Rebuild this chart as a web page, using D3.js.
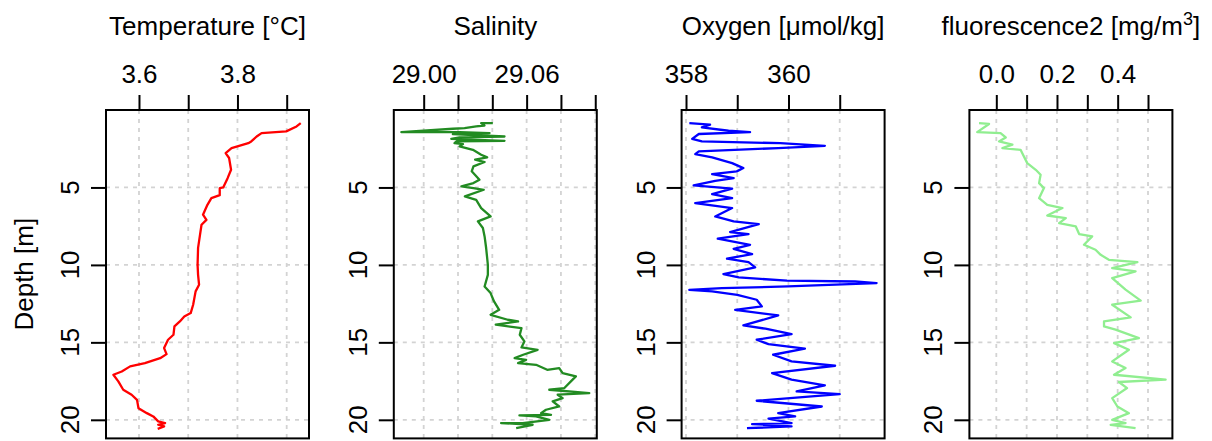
<!DOCTYPE html>
<html>
<head>
<meta charset="utf-8">
<script src="https://cdn.jsdelivr.net/npm/d3@7"></script>
<style>
  body { margin: 0; background: #fff; }
  svg text { font-family: "Liberation Sans", Arial, sans-serif; fill: #000; }
</style>
</head>
<body>
<div id="chart"></div>
<script>
// profile readings (depth in m)
var tempDepth = [0.85,1.06,1.38,1.49,1.71,2.03,2.14,2.46,2.78,3.1,3.86,4.4,5.0,5.05,5.5,5.69,6.12,6.76,7.09,7.41,8.05,8.9,10.0,10.64,11.28,11.71,12.57,13.11,13.33,13.65,13.97,14.51,14.83,15.37,15.76,16.02,16.34,16.55,16.88,17.09,17.52,18.06,18.38,18.71,19.25,19.57,19.78,20.1,20.21,20.32,20.43,20.58];
var tempValue = [3.9285,3.92,3.899,3.849,3.839,3.828,3.822,3.788,3.776,3.783,3.787,3.78,3.771,3.764,3.764,3.747,3.739,3.73,3.737,3.727,3.724,3.72,3.719,3.72,3.722,3.715,3.71,3.705,3.692,3.683,3.672,3.67,3.659,3.651,3.656,3.643,3.612,3.582,3.565,3.548,3.558,3.568,3.585,3.596,3.599,3.616,3.629,3.639,3.653,3.639,3.651,3.638];

var salDepth = [0.85,0.85,1.0,1.06,1.17,1.21,1.43,1.43,1.49,1.56,1.71,1.77,1.86,1.99,2.03,2.14,2.2,2.35,2.57,2.89,3.06,3.21,3.36,3.64,3.96,4.5,4.72,4.93,5.04,5.15,5.58,5.8,6.33,6.87,7.19,7.62,8.16,8.91,9.99,10.64,11.39,11.82,12.36,12.9,13.22,13.54,13.65,13.86,14.08,14.51,14.94,15.33,15.48,15.8,16.02,16.13,16.34,16.45,16.77,16.66,16.98,17.2,17.52,17.95,18.06,18.28,18.38,18.6,18.81,19.14,19.35,19.57,19.68,19.72,19.78,20.0,20.21,20.21,20.32,20.54];
var salValue = [29.0403,29.0335,29.0354,29.0306,29.0238,29.017,28.987,29.0209,29.0384,29.017,29.0471,29.0209,29.0161,29.0471,29.019,29.018,29.0229,29.0209,29.0287,29.0335,29.037,29.030,29.0355,29.029,29.028,29.0325,29.029,29.022,29.029,29.035,29.024,29.0306,29.0335,29.039,29.0316,29.0345,29.0355,29.0364,29.0374,29.0374,29.0355,29.039,29.041,29.044,29.039,29.049,29.055,29.042,29.057,29.056,29.0587,29.057,29.0664,29.058,29.053,29.0597,29.055,29.0655,29.072,29.079,29.081,29.0887,29.0858,29.082,29.0732,29.0965,29.0781,29.081,29.0752,29.079,29.0713,29.0684,29.0742,29.0558,29.0655,29.0732,29.0577,29.0451,29.0635,29.0539];

var oxyDepth = [0.85,0.95,1.12,1.34,1.43,1.55,1.86,2.03,2.14,2.31,2.46,2.67,2.85,3.06,3.43,3.75,3.96,4.14,4.4,4.57,4.87,5.08,5.43,5.69,6.01,6.33,6.87,7.19,7.37,7.88,8.01,8.31,8.7,8.96,9.3,9.6,9.82,10.16,10.59,10.81,11.02,11.07,11.17,11.39,11.5,11.61,11.71,11.93,12.25,12.68,12.9,13.26,13.91,14.12,14.47,14.83,15.11,15.41,15.8,16.23,16.51,16.99,17.41,17.78,18.17,18.34,18.77,19.14,19.57,19.78,19.93,20.21,20.28,20.43,20.54];
var oxyValue = [358.065,358.47,358.31,358.83,359.25,358.25,358.12,358.31,359.84,360.71,359.8,358.25,358.18,358.51,358.9,359.12,358.99,358.51,358.93,358.57,358.15,358.9,358.51,358.9,358.18,358.9,358.57,358.93,359.42,358.86,359.22,358.62,359.25,358.93,359.29,358.8,359.22,359.35,358.73,359.03,359.97,361.3,361.72,359.99,358.7,358.065,358.51,359.0,359.38,359.48,358.96,359.8,359.12,359.55,360.06,359.38,359.61,360.32,359.7,360.06,360.91,359.68,360.06,360.71,360.16,361.0,359.38,360.65,359.8,360.13,359.61,360.06,359.29,360.06,359.19];

var fluDepth = [0.85,0.9,1.43,1.49,1.77,2.03,2.24,2.46,2.57,3.0,3.43,3.86,4.18,4.72,5.04,5.69,6.12,6.33,6.81,6.98,7.3,7.52,8.01,8.16,8.7,9.02,9.35,9.67,9.82,10.21,10.42,10.85,11.6,12.31,12.57,13.39,13.65,13.97,14.18,14.73,15.05,15.48,16.23,16.66,17.09,17.41,17.56,17.95,18.6,19.14,19.57,20.0,20.21,20.32,20.54];
var fluValue = [-0.057,-0.024,-0.063,0.014,0.031,0.009,0.053,0.02,0.08,0.091,0.102,0.13,0.146,0.141,0.157,0.141,0.168,0.218,0.168,0.229,0.207,0.262,0.273,0.316,0.289,0.327,0.344,0.371,0.465,0.382,0.459,0.382,0.426,0.476,0.382,0.443,0.355,0.355,0.393,0.47,0.388,0.437,0.382,0.426,0.388,0.558,0.404,0.431,0.382,0.399,0.437,0.382,0.426,0.377,0.459];

// axis setup per panel
var titles = ["Temperature [\u00b0C]", "Salinity", "Oxygen [\u03bcmol/kg]", "fluorescence2 [mg/m"];
var xDomains = [[3.533, 3.9453], [28.98258, 29.1009], [357.914, 361.876], [-0.0887, 0.5804]];
var xTicks = [[3.6, 3.7, 3.8, 3.9], [29.00, 29.02, 29.04, 29.06, 29.08, 29.10], [358, 359, 360, 361], [0, 0.1, 0.2, 0.3, 0.4, 0.5]];
var xTickLabels = [["3.6", "", "3.8", ""], ["29.00", "", "", "29.06", "", ""], ["358", "", "360", ""], ["0.0", "", "0.2", "", "0.4", ""]];
var depthTicks = [5, 10, 15, 20];
var colors = ["#ff0000", "#228b22", "#0000ff", "#90ee90"];
var depthDomain = [0, 21.2];

var series = [
  [tempDepth, tempValue],
  [salDepth, salValue],
  [oxyDepth, oxyValue],
  [fluDepth, fluValue]
];

var W = 1212, H = 441;
var top0 = 110, bottom0 = 438.4;
var panelW = 203, panelStep = 287.8, left0 = 106;
var fs = 26;

var svg = d3.select("#chart").append("svg")
    .attr("width", W)
    .attr("height", H);

var y = d3.scaleLinear().domain(depthDomain).range([top0, bottom0]);

for (var p = 0; p < 4; p++) {
  var left = left0 + p * panelStep;
  var x = d3.scaleLinear().domain(xDomains[p]).range([left, left + panelW]);
  var g = svg.append("g");

  // grid
  g.selectAll(".vgrid").data(xTicks[p]).enter().append("line")
      .attr("x1", function(d) { return x(d); })
      .attr("x2", function(d) { return x(d); })
      .attr("y1", top0).attr("y2", bottom0)
      .attr("stroke", "#d3d3d3").attr("stroke-width", 1.8)
      .attr("stroke-dasharray", "4,5");
  g.selectAll(".hgrid").data(depthTicks).enter().append("line")
      .attr("x1", left).attr("x2", left + panelW)
      .attr("y1", function(d) { return y(d); })
      .attr("y2", function(d) { return y(d); })
      .attr("stroke", "#d3d3d3").attr("stroke-width", 1.8)
      .attr("stroke-dasharray", "4,5");

  // profile
  var dep = series[p][0], val = series[p][1];
  var pts = dep.map(function(d, i) { return [val[i], d]; });
  var line = d3.line()
      .x(function(d) { return x(d[0]); })
      .y(function(d) { return y(d[1]); });
  g.append("path")
      .datum(pts)
      .attr("d", line)
      .attr("fill", "none")
      .attr("stroke", colors[p])
      .attr("stroke-width", 2.3)
      .attr("stroke-linejoin", "round");

  // top axis
  var labels = xTickLabels[p];
  var xa = g.append("g")
      .attr("transform", "translate(0," + top0 + ")")
      .call(d3.axisTop(x).tickValues(xTicks[p]).tickSize(15).tickPadding(12.5)
        .tickFormat(function(d, i) { return labels[i]; }));
  xa.select(".domain").remove();
  xa.selectAll("line").attr("stroke", "#000").attr("stroke-width", 2);
  xa.selectAll("text").attr("font-size", fs).attr("font-family", null);

  // left axis
  var ya = g.append("g")
      .attr("transform", "translate(" + left + ",0)")
      .call(d3.axisLeft(y).tickValues(depthTicks).tickSize(15).tickFormat(""));
  ya.select(".domain").remove();
  ya.selectAll("line").attr("stroke", "#000").attr("stroke-width", 2);
  g.selectAll(".ylab").data(depthTicks).enter().append("text")
      .attr("transform", function(d) { return "translate(" + (left - 27) + "," + y(d) + ") rotate(-90)"; })
      .attr("text-anchor", "middle")
      .attr("font-size", fs)
      .text(function(d) { return d; });

  // box
  g.append("rect")
      .attr("x", left).attr("y", top0)
      .attr("width", panelW).attr("height", bottom0 - top0)
      .attr("fill", "none").attr("stroke", "#000").attr("stroke-width", 2);

  // title
  var t = g.append("text")
      .attr("x", left + panelW / 2)
      .attr("y", 35)
      .attr("text-anchor", "middle")
      .attr("font-size", fs)
      .text(titles[p]);
  if (p == 3) {
    t.append("tspan").attr("dy", -10).attr("font-size", 18).text("3");
    t.append("tspan").attr("dy", 10).text("]");
  }
}

svg.append("text")
    .attr("transform", "translate(33," + ((top0 + bottom0) / 2) + ") rotate(-90)")
    .attr("text-anchor", "middle")
    .attr("font-size", fs)
    .text("Depth [m]");
</script>
</body>
</html>
